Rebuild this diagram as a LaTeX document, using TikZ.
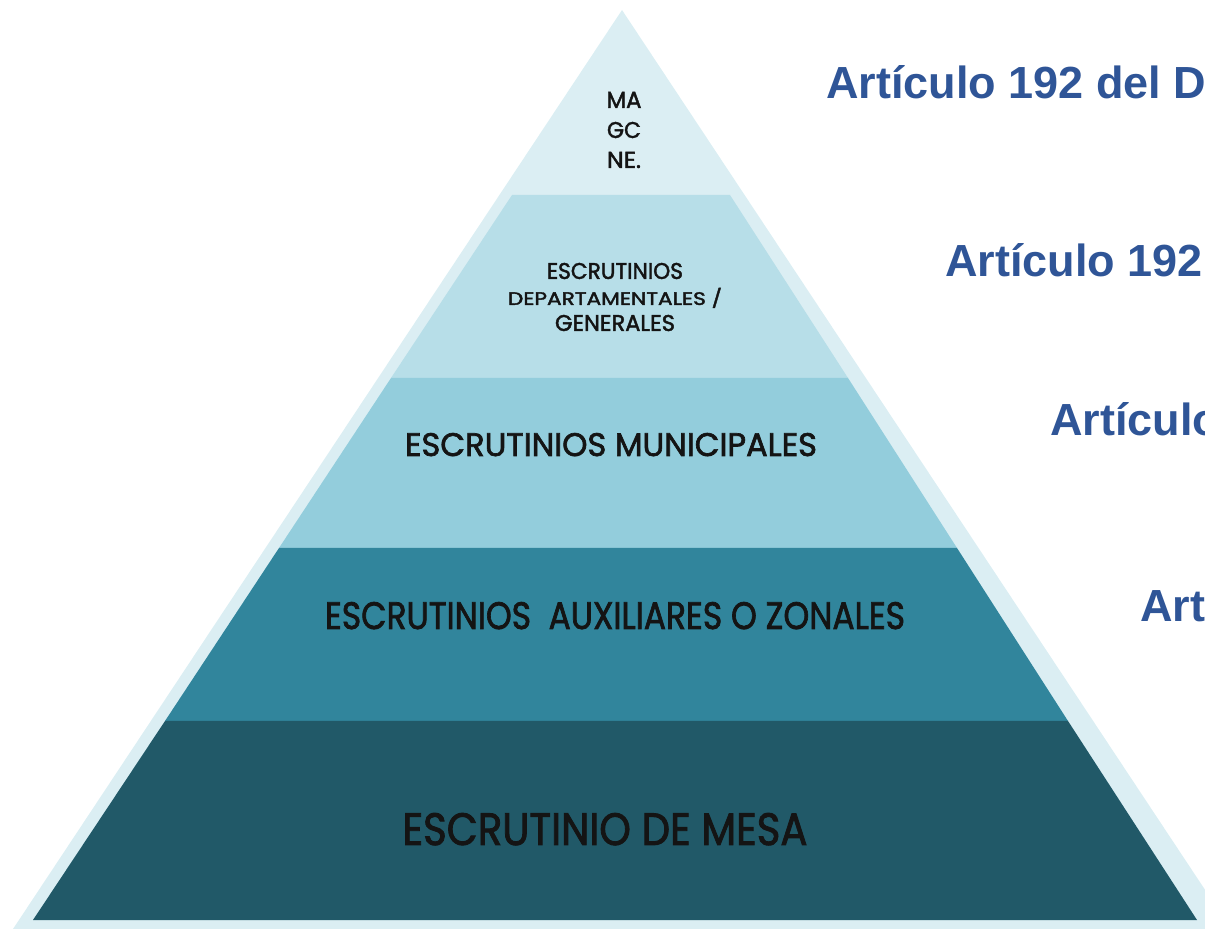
\documentclass[tikz,border=0pt]{standalone}
\usepackage{fontspec}
\setmainfont{Liberation Sans}
\newfontfamily\pyrfont[FakeBold=2]{Poppins}
\definecolor{capa0}{HTML}{DBEEF3}
\definecolor{capa1}{HTML}{B7DEE8}
\definecolor{capa2}{HTML}{93CDDC}
\definecolor{capa3}{HTML}{31859C}
\definecolor{capa4}{HTML}{215968}
\definecolor{artblue}{HTML}{2F5597}
\definecolor{texto}{HTML}{141414}
% texto de una capa ajustado a ancho y alto
\newcommand{\capatxt}[3]{\resizebox{#1}{#2}{#3}}

\begin{document}
\begin{tikzpicture}[x=0.5pt,y=-0.5pt,
  art/.style={anchor=base west,inner sep=0,text=artblue,font=\bfseries\fontsize{22.5}{27}\selectfont},
  lbl/.style={inner sep=0,text=texto,align=center,font=\pyrfont\fontsize{10}{15}\selectfont}]
\useasboundingbox (0,0) rectangle (1205,929);
\clip (0,0) rectangle (1205,929);

% piramide de fondo
\fill[capa0] (622,10) -- (13,929) -- (1231,929) -- cycle;
% capas
\fill[capa1] (512,195) -- (730,195) -- (848,378) -- (391,378) -- cycle;
\fill[capa2] (391,378) -- (848,378) -- (957,548) -- (279,548) -- cycle;
\fill[capa3] (279,548) -- (957,548) -- (1068,721) -- (165,721) -- cycle;
\fill[capa4] (165,721) -- (1068,721) -- (1197,920) -- (33,920) -- cycle;

\node[lbl] (cima) at (624,130) {\capatxt{17.5pt}{8pt}{MA}\\\capatxt{17pt}{8pt}{GC}\\\capatxt{17pt}{8pt}{NE.}};
\node[lbl,font=\pyrfont\fontsize{10}{13}\selectfont] (depto) at (615,297)
  {\capatxt{68pt}{8pt}{ESCRUTINIOS}\\\capatxt{107pt}{8.5pt}{DEPARTAMENTALES /}\\\capatxt{60pt}{8pt}{GENERALES}};
\node[lbl,anchor=base] (muni) at (611,456) {\capatxt{206pt}{11.5pt}{ESCRUTINIOS MUNICIPALES}};
\node[lbl,anchor=base] (auxi) at (615,629) {\capatxt{290pt}{13.5pt}{ESCRUTINIOS~~AUXILIARES O ZONALES}};
\node[lbl,anchor=base] (mesa) at (605,845) {\capatxt{202.5pt}{16pt}{ESCRUTINIO DE MESA}};

\node[art] (art1) at (826,99) {Artículo 192 del D};
\node[art] (art2) at (945,277) {Artículo 192};
\node[art] (art3) at (1050,436) {Artículo};
\node[art] (art4) at (1140,622) {Art};
\end{tikzpicture}
\end{document}
